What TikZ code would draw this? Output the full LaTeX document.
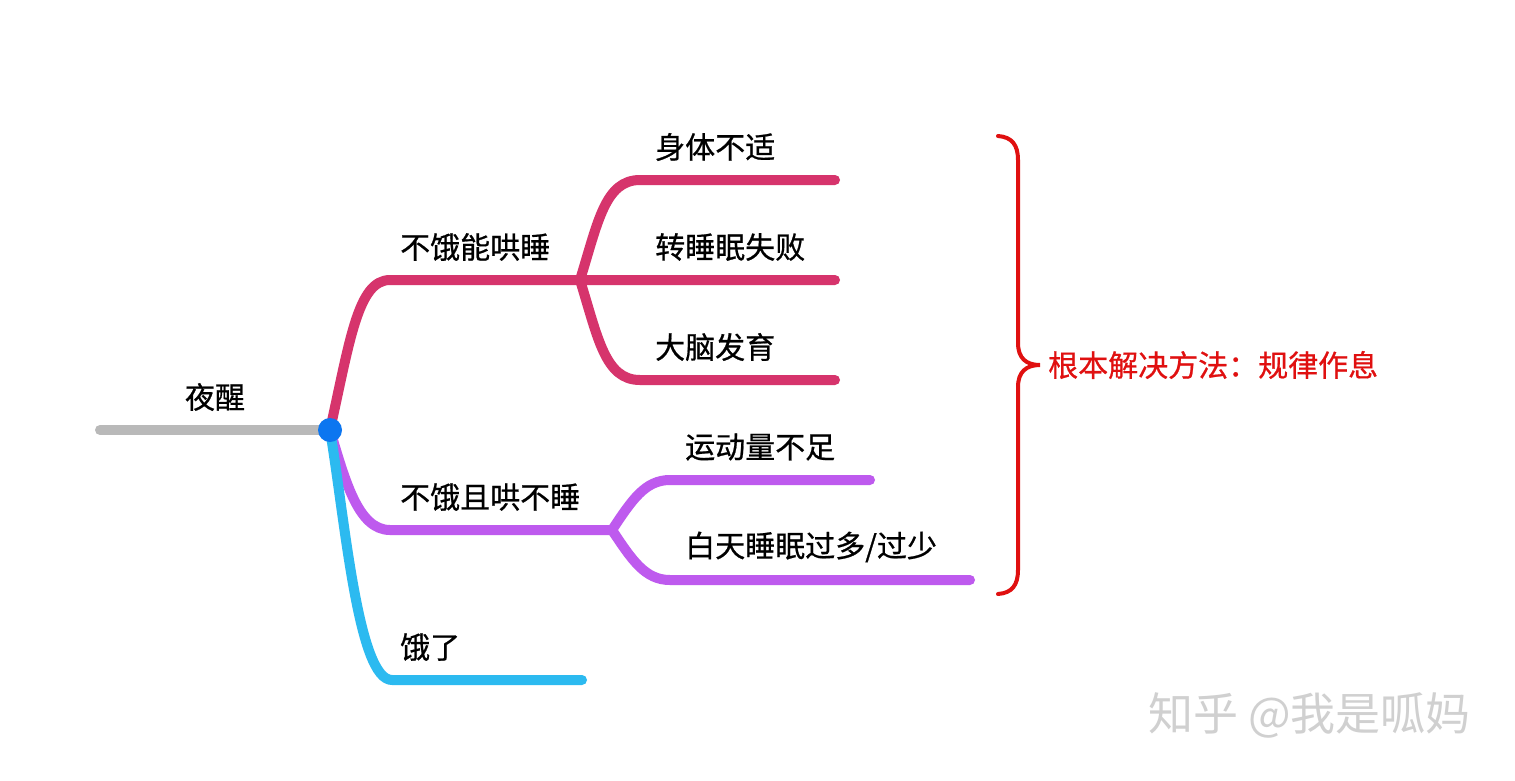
\documentclass[tikz,border=0pt]{standalone}
\usepackage{fontspec}
\setmainfont{Noto Sans CJK SC}
\newfontfamily\cjk[FakeBold=0.7]{Noto Sans CJK SC}
\newfontfamily\cjkw{Noto Sans CJK SC}
\definecolor{pinkc}{RGB}{214,52,108}
\definecolor{purplec}{RGB}{190,90,238}
\definecolor{bluec}{RGB}{44,186,240}
\definecolor{grayc}{RGB}{185,185,185}
\definecolor{dotc}{RGB}{12,118,240}
\definecolor{redc}{RGB}{224,16,16}
\definecolor{wmc}{RGB}{208,208,208}
\tikzset{
  lbl/.style={anchor=west, inner sep=0pt, font=\cjk\fontsize{30}{36}\selectfont, text=black},
  br/.style={line width=10pt, line cap=round, line join=round},
}
\begin{document}
\begin{tikzpicture}[x=1pt,y=-1pt]
\useasboundingbox[fill=white] (0,0) rectangle (1515,780);
% coordinates
\coordinate (root0) at (100,430);
\coordinate (hub) at (330,430);
\coordinate (p0) at (390,280);
\coordinate (psplit) at (580,280);
\coordinate (p1s) at (640,180);
\coordinate (p1e) at (835,180);
\coordinate (p2e) at (835,280);
\coordinate (p3s) at (640,380);
\coordinate (p3e) at (835,380);
\coordinate (u0) at (390,530);
\coordinate (usplit) at (612,530);
\coordinate (u1s) at (670,480);
\coordinate (u1e) at (870,480);
\coordinate (u2s) at (670,580);
\coordinate (u2e) at (970,580);
\coordinate (b0) at (392,680);
\coordinate (b1) at (582,680);
% root
\draw[br, grayc] (root0) -- (hub);
% pink
\draw[br, pinkc] (hub) .. controls (350,340) and (358,280) .. (p0) -- (p2e);
\draw[br, pinkc] (psplit) .. controls (598,222) and (605,180) .. (p1s) -- (p1e);
\draw[br, pinkc] (psplit) .. controls (598,338) and (605,380) .. (p3s) -- (p3e);
% purple
\draw[br, purplec] (hub) .. controls (345,480) and (358,530) .. (u0) -- (usplit);
\draw[br, purplec] (usplit) .. controls (632,500) and (645,480) .. (u1s) -- (u1e);
\draw[br, purplec] (usplit) .. controls (632,560) and (645,580) .. (u2s) -- (u2e);
% blue
\draw[br, bluec] (hub) .. controls (345,520) and (358,680) .. (b0) -- (b1);
% hub dot
\fill[dotc] (hub) circle (12);
% labels
\node[lbl, anchor=center] (root) at (215,397) {夜醒};
\node[lbl] (n1) at (400,247) {不饿能哄睡};
\node[lbl] (n11) at (655,147) {身体不适};
\node[lbl] (n12) at (655,247) {转睡眠失败};
\node[lbl] (n13) at (655,347) {大脑发育};
\node[lbl] (n2) at (400,497) {不饿且哄不睡};
\node[lbl] (n21) at (685,447) {运动量不足};
\node[lbl] (n22) at (685,547) {白天睡眠过多/过少};
\node[lbl] (n3) at (400,647) {饿了};
% brace
\coordinate (bt) at (998,136);
\coordinate (bb) at (998,594);
\coordinate (tip) at (1040,365);
\draw[redc, line width=4pt, line cap=round] (bt) .. controls (1012,137) and (1018,145) .. (1018,160)
  -- (1018,343) .. controls (1018,358) and (1026,365) .. (tip)
  .. controls (1026,365) and (1018,372) .. (1018,387)
  -- (1018,570) .. controls (1018,585) and (1012,593) .. (bb);
\node[lbl, text=redc] (sol) at (1048,365) {根本解决方法：规律作息};
% watermark
\node[anchor=west, inner sep=0pt, text=wmc, font=\cjkw\fontsize{45}{52}\selectfont] (wm) at (1148,715) {知乎 @我是呱妈};
\end{tikzpicture}
\end{document}
